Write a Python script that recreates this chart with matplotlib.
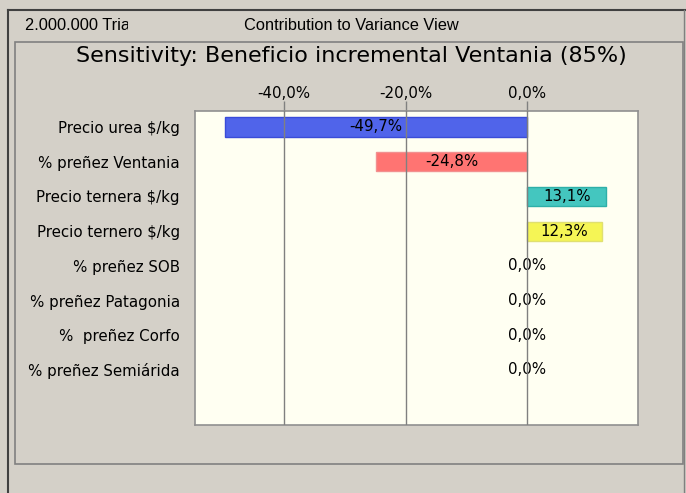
import matplotlib
matplotlib.use("Agg")
import matplotlib.pyplot as plt
from matplotlib.patches import Rectangle
from matplotlib.lines import Line2D
from matplotlib.ticker import FuncFormatter, FixedLocator
from matplotlib.transforms import Bbox

plt.rcParams['font.family'] = ['DejaVu Sans']

categories = ["Precio urea $/kg", "% preñez Ventania", "Precio ternera $/kg",
              "Precio ternero $/kg", "% preñez SOB", "% preñez Patagonia",
              "%  preñez Corfo", "% preñez Semiárida"]
values = [-49.7, -24.8, 13.1, 12.3, 0.0, 0.0, 0.0, 0.0]
bar_colors = ["#5064EA", "#FF7472", "#44C6BF", "#F5F555", "#FFFFFF", "#FFFFFF", "#FFFFFF", "#FFFFFF"]
edge_colors = ["#3A4CD8", "#F29090", "#2EAFA8", "#E0E070", "none", "none", "none", "none"]
xticks = [-40, -20, 0]

W, H = 686, 493
fig = plt.figure(figsize=(W / 100, H / 100), dpi=100)
fig.patch.set_facecolor("#D4D0C8")

def fx(px):
    return px / W

def fy(py):
    return 1 - py / H

# outer frame lines
fig.add_artist(Line2D([fx(8), fx(8)], [fy(10), fy(493)], color="#404040", lw=1.5))
fig.add_artist(Line2D([fx(8), fx(686)], [fy(10), fy(10)], color="#404040", lw=1.5))
# inner panel
fig.add_artist(Rectangle((fx(15), fy(464)), fx(683) - fx(15), fy(42) - fy(464),
                         fill=False, edgecolor="#808080", lw=1.2))
fig.add_artist(Line2D([fx(684), fx(684)], [fy(10), fy(493)], color="#808080", lw=1))

hdr = fig.text(fx(25), fy(25), "2.000.000 Trials", fontsize=11.8, va="center", ha="left",
               color="#000000", family=["Liberation Sans", "DejaVu Sans"])
hdr.set_clip_box(Bbox.from_extents(0, 0, 128, H))
hdr.set_clip_on(True)
fig.text(fx(351), fy(25), "Contribution to Variance View", fontsize=11.8, va="center",
         ha="center", family=["Liberation Sans", "DejaVu Sans"])
fig.text(fx(351), fy(56), "Sensitivity: Beneficio incremental Ventania (85%)",
         fontsize=16, va="center", ha="center", color="#000000")

ax = fig.add_axes([fx(195), fy(425), fx(638) - fx(195), fy(111) - fy(425)])
ax.set_facecolor("#FFFFF2")
ypos = list(range(len(categories)))
ax.barh(ypos, values, height=0.55, color=bar_colors, edgecolor=edge_colors, linewidth=1, zorder=2)
ax.set_xlim(-54.7, 18.3)
ax.set_ylim(8.585, -0.46)
ax.xaxis.set_major_locator(FixedLocator(xticks))
ax.xaxis.set_major_formatter(FuncFormatter(lambda v, p: f"{v:.1f}%".replace(".", ",")))
ax.xaxis.tick_top()
ax.tick_params(axis="x", length=7, color="#808080", labelsize=10.8, pad=0, width=1)
ax.set_yticks(ypos)
ax.set_yticklabels(categories, fontsize=10.8)
ax.tick_params(axis="y", length=0, pad=11)
for x in xticks:
    ax.axvline(x, color="#808080", lw=1, zorder=3)
for s in ax.spines.values():
    s.set_color("#909090")
    s.set_linewidth(1.2)

for y, v in zip(ypos, values):
    ax.text(v / 2, y, f"{v:.1f}%".replace(".", ","), ha="center", va="center",
            fontsize=10.8, color="#000000", zorder=2.5)

fig.savefig("out.png", dpi=100, facecolor=fig.get_facecolor())
